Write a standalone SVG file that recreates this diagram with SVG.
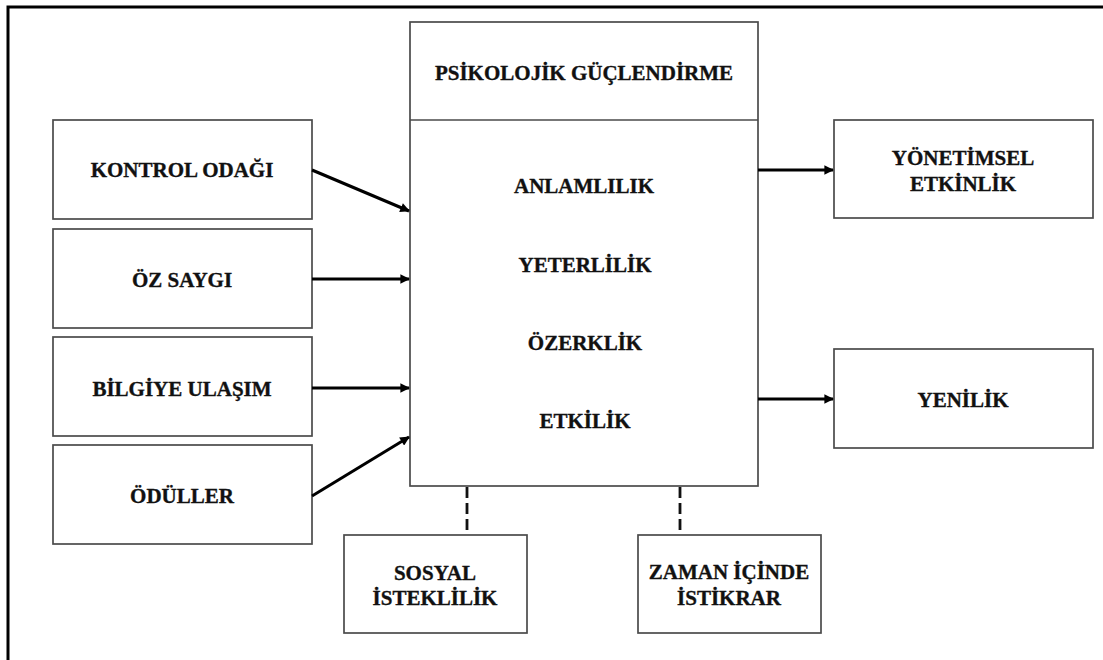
<svg xmlns="http://www.w3.org/2000/svg" width="1103" height="660" viewBox="0 0 1103 660">
<defs>
<style>
.box{fill:#fff;stroke:#4a4a4a;stroke-width:1.7}
.t{font-family:'Liberation Serif','DejaVu Serif',serif;font-weight:700;font-size:21px;fill:#111;stroke:#111;stroke-width:0.35;text-anchor:middle}
.arr{stroke:#000;stroke-width:3;fill:none;marker-end:url(#ah)}
.dash{stroke:#111;stroke-width:2.8;fill:none;stroke-dasharray:11,5}
</style>
<marker id="ah" viewBox="0 0 10 10" refX="9" refY="5" markerWidth="3.4" markerHeight="3.2" orient="auto" markerUnits="strokeWidth">
<path d="M0,0 L10,5 L0,10 z" fill="#000"/>
</marker>
</defs>
<rect width="1103" height="660" fill="#fff"/>
<g id="frame">
<path d="M8,660 V7 H1103" stroke="#000" stroke-width="3" fill="none"/>
</g>
<g id="center">
<rect class="box" x="410" y="22" width="348" height="464"/>
<line x1="410" y1="120" x2="758" y2="120" stroke="#4a4a4a" stroke-width="1.7"/>
<text class="t" x="584" y="80">PSİKOLOJİK GÜÇLENDİRME</text>
<text class="t" x="584" y="193">ANLAMLILIK</text>
<text class="t" x="585" y="272">YETERLİLİK</text>
<text class="t" x="585" y="350">ÖZERKLİK</text>
<text class="t" x="585" y="428">ETKİLİK</text>
</g>
<g id="kontrol">
<rect class="box" x="53" y="120" width="259" height="99"/>
<text class="t" x="182" y="177">KONTROL ODAĞI</text>
</g>
<g id="ozsaygi">
<rect class="box" x="53" y="229" width="259" height="99"/>
<text class="t" x="182" y="287">ÖZ SAYGI</text>
</g>
<g id="bilgiye">
<rect class="box" x="53" y="337" width="259" height="99"/>
<text class="t" x="182" y="396">BİLGİYE ULAŞIM</text>
</g>
<g id="oduller">
<rect class="box" x="53" y="445" width="259" height="99"/>
<text class="t" x="182" y="503">ÖDÜLLER</text>
</g>
<g id="yonetimsel">
<rect class="box" x="834" y="120" width="259" height="98"/>
<text class="t" x="963" y="165">YÖNETİMSEL</text>
<text class="t" x="963" y="191">ETKİNLİK</text>
</g>
<g id="yenilik">
<rect class="box" x="834" y="349" width="259" height="99"/>
<text class="t" x="963" y="407">YENİLİK</text>
</g>
<g id="sosyal">
<rect class="box" x="344" y="535" width="183" height="98"/>
<text class="t" x="435" y="580">SOSYAL</text>
<text class="t" x="435" y="605">İSTEKLİLİK</text>
</g>
<g id="zaman">
<rect class="box" x="638" y="535" width="183" height="98"/>
<text class="t" x="729" y="579">ZAMAN İÇİNDE</text>
<text class="t" x="729" y="605">İSTİKRAR</text>
</g>
<g id="connectors">
<line class="arr" x1="312" y1="170" x2="409" y2="211"/>
<line class="arr" x1="312" y1="279" x2="409" y2="279"/>
<line class="arr" x1="312" y1="388" x2="409" y2="388"/>
<line class="arr" x1="312" y1="496" x2="409" y2="437"/>
<line class="arr" x1="758" y1="170" x2="833" y2="170"/>
<line class="arr" x1="758" y1="399" x2="833" y2="399"/>
<line class="dash" x1="467" y1="487" x2="467" y2="535"/>
<line class="dash" x1="680" y1="487" x2="680" y2="535"/>
</g>
</svg>
